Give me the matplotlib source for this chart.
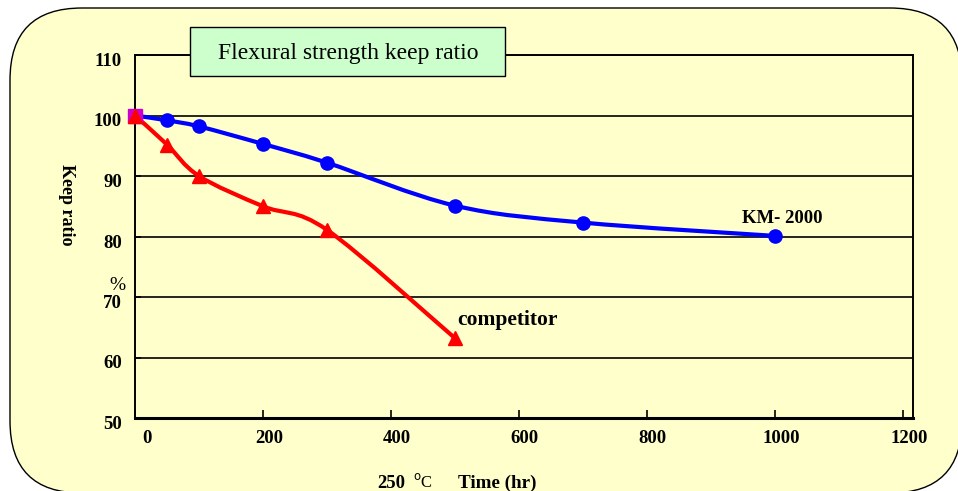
import matplotlib
matplotlib.use("Agg")
import matplotlib.pyplot as plt
import numpy as np
from matplotlib.patches import FancyBboxPatch, PathPatch
from matplotlib.path import Path
from matplotlib.transforms import ScaledTranslation

# --- data ------------------------------------------------------------------
km_hours = [0, 50, 100, 200, 300, 500, 700, 1000]
km_ratio = [100, 99.2, 98.2, 95.3, 92.2, 85.1, 82.3, 80.1]
comp_hours = [0, 50, 100, 200, 300, 500]
comp_ratio = [100, 95.2, 90.0, 85.0, 81.1, 63.2]
x_ticks = [0, 200, 400, 600, 800, 1000, 1200]
y_ticks = [50, 60, 70, 80, 90, 100, 110]

YELLOW = "#FFFFCC"
SERIF = "Liberation Serif"
plt.rcParams["font.family"] = [SERIF, "DejaVu Serif"]


def smooth_path(xs, ys):
    """Excel-style smoothed line (Catmull-Rom as cubic Bezier segments)."""
    pts = np.column_stack([xs, ys]).astype(float)
    n = len(pts)
    verts, codes = [pts[0]], [Path.MOVETO]
    for i in range(n - 1):
        p0 = pts[i - 1] if i > 0 else pts[i]
        p1, p2 = pts[i], pts[i + 1]
        p3 = pts[i + 2] if i + 2 < n else pts[i + 1]
        verts += [p1 + (p2 - p0) / 6, p2 - (p3 - p1) / 6, p2]
        codes += [Path.CURVE4] * 3
    return Path(verts, codes)


fig = plt.figure(figsize=(9.58, 4.91), dpi=100, facecolor="white")
px = 1 / 100  # one pixel in inches

# rounded pale-yellow card behind everything
card = FancyBboxPatch((10 * px, -0.02), 952 * px, (491 - 8) * px + 0.02,
                      boxstyle="round,pad=0,rounding_size=0.72",
                      transform=fig.dpi_scale_trans, facecolor=YELLOW,
                      edgecolor="black", linewidth=1.0, zorder=-5)
fig.add_artist(card)

ax = fig.add_axes([135 / 958, 1 - 418 / 491, (913 - 135) / 958, (418 - 55) / 491])
ax.set_facecolor("none")
ax.set_xlim(0, 1216)
ax.set_ylim(50, 110)
ax.set_xticks(x_ticks)
ax.set_yticks(y_ticks)
ax.yaxis.grid(True, color="black", linewidth=1.2)
ax.set_axisbelow(True)
for side in ["left", "top", "right"]:
    ax.spines[side].set_linewidth(1.4)
ax.spines["bottom"].set_linewidth(2.2)
ax.tick_params(axis="x", direction="in", length=6, width=1.2, pad=8.5)
ax.tick_params(axis="y", direction="in", length=4, width=1.2, pad=9.5)
for lab in ax.get_xticklabels() + ax.get_yticklabels():
    lab.set_fontweight("bold")
    lab.set_fontsize(13.5)
for i, lab in enumerate(ax.get_xticklabels()):
    dx = 12 if i == 0 else 6  # the "0" label sits further right in the original
    lab.set_transform(lab.get_transform() + ScaledTranslation(dx * px, 0, fig.dpi_scale_trans))
for lab in ax.get_yticklabels():
    lab.set_transform(lab.get_transform() + ScaledTranslation(0, -4.5 * px, fig.dpi_scale_trans))

# smoothed lines
ax.add_patch(PathPatch(smooth_path(comp_hours, comp_ratio), facecolor="none",
                       edgecolor="#FF0000", linewidth=3.0, zorder=3,
                       capstyle="round", joinstyle="round"))
ax.add_patch(PathPatch(smooth_path(km_hours, km_ratio), facecolor="none",
                       edgecolor="#0000FF", linewidth=3.0, zorder=3,
                       capstyle="round", joinstyle="round"))

# markers
ax.plot(km_hours[:1], km_ratio[:1], linestyle="none", marker="s", markersize=10,
        color="#CC00CC", zorder=4, clip_on=False)
ax.plot(km_hours[1:], km_ratio[1:], linestyle="none", marker="o", markersize=9.5,
        color="#0000FF", zorder=4, clip_on=False)
ax.plot(comp_hours, comp_ratio, linestyle="none", marker="^", markersize=10,
        color="#FF0000", zorder=5, clip_on=False)

# series labels
ax.text(948, 82.3, "KM- 2000", fontsize=13.5, fontweight="bold", ha="left", va="baseline")
ax.text(503, 65.3, "competitor", fontsize=15.5, fontweight="bold", ha="left", va="baseline")

# title box
title_box = FancyBboxPatch((190 * px, (491 - 76) * px), 315 * px, 49 * px,
                           boxstyle="square,pad=0", transform=fig.dpi_scale_trans,
                           facecolor="#CCFFCC", edgecolor="black", linewidth=1.0,
                           zorder=5)
fig.add_artist(title_box)
fig.text(348 / 958, 1 - 53 / 491, "Flexural strength keep ratio", fontsize=17,
         ha="center", va="center", zorder=6)

# axis annotations
fig.text(66 / 958, 1 - 205 / 491, "Keep ratio", rotation=270, fontsize=13,
         fontweight="bold", ha="center", va="center")
fig.text(117 / 958, 1 - 285 / 491, "%", fontsize=14, ha="center", va="center")
fig.text(391 / 958, 1 - 488 / 491, "250", fontsize=13.5, fontweight="bold",
         ha="center", va="baseline")
fig.text(413 / 958, 1 - 487 / 491, r"$^{\rm o}$C", fontsize=12,
         ha="left", va="baseline")
fig.text(497 / 958, 1 - 488 / 491, "Time (hr)", fontsize=13.8, fontweight="bold",
         ha="center", va="baseline")

fig.savefig("out.png", dpi=100)
